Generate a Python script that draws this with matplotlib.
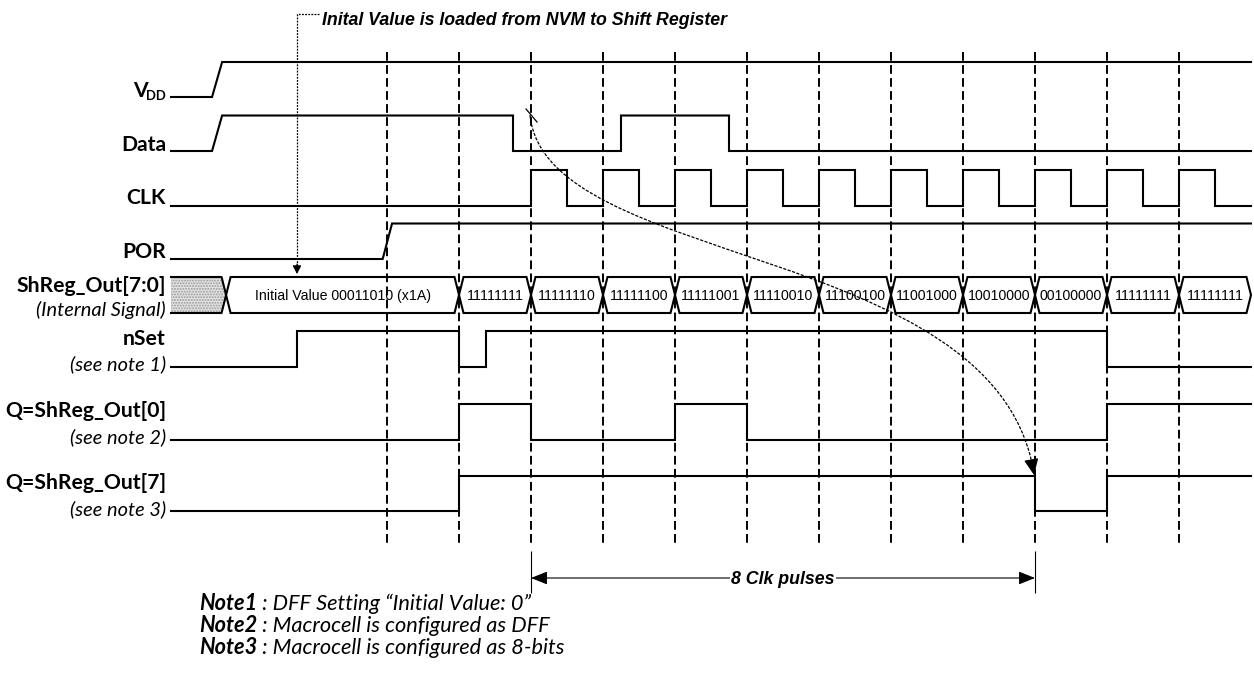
import matplotlib
matplotlib.use("Agg")
import matplotlib.pyplot as plt
from matplotlib.path import Path
from matplotlib.patches import Polygon, PathPatch, FancyArrowPatch

# ------------------------------------------------------------------ data
# time axis: 1 unit = one clock period, t = 0 is the first dashed marker
marker_times = [0, 1, 2, 3, 4, 5, 6, 7, 8, 9, 10, 11]
t_start, t_end = -3.0, 12.0

vdd_t = [-3.0, -2.43, -2.29, 12.0]
vdd_v = [0, 0, 1, 1]
data_t = [-3.0, -2.43, -2.29, 1.75, 1.75, 3.25, 3.25, 4.75, 4.75, 12.0]
data_v = [0, 0, 1, 1, 0, 0, 1, 1, 0, 0]
clk_edges = [2, 2.5, 3, 3.5, 4, 4.5, 5, 5.5, 6, 6.5, 7, 7.5, 8, 8.5, 9, 9.5,
             10, 10.5, 11, 11.5]
por_t = [-3.0, -0.06, 0.07, 12.0]
por_v = [0, 0, 1, 1]
nset_edges = [-1.25, 1.0, 1.375, 10.0]
q0_edges = [1, 2, 4, 5, 10]
q7_edges = [1, 9, 10]

bus_unknown = [-3.0, -2.235]
bus_bounds = [-2.235, 1, 2, 3, 4, 5, 6, 7, 8, 9, 10, 11, 12.0]
bus_values = ["Initial Value 00011010 (x1A)", "11111111", "11111110",
              "11111100", "11111001", "11110010", "11100100", "11001000",
              "10010000", "00100000", "11111111", "11111111"]

title_text = "Inital Value is loaded from NVM to Shift Register"
nvm_load_t = -1.25
span_text = "8 Clk pulses"
span_t = [2, 9]
notes_head = ["Note1", "Note2", "Note3"]
notes_body = [" : DFF Setting \u201cInitial Value: 0\u201d",
              " : Macrocell is configured as DFF",
              " : Macrocell is configured as 8-bits"]

# ------------------------------------------------------------------ layout
T0_PX, PITCH = 387.0, 72.0


def px2t(x):
    return (x - T0_PX) / PITCH


LW = 1.5
fig = plt.figure(figsize=(12.54, 6.77), dpi=100)
ax = fig.add_axes([0, 0, 1, 1])
ax.set_xlim(px2t(0), px2t(1254))
ax.set_ylim(677, 0)
ax.axis("off")


def step_xy(edges, init=0):
    ts, vs, lvl = [t_start], [init], init
    for e in edges:
        ts += [e, e]
        vs += [lvl, 1 - lvl]
        lvl = 1 - lvl
    ts.append(t_end)
    vs.append(lvl)
    return ts, vs


def draw_wave(ts, vs, low, high):
    ys = [low - v * (low - high) for v in vs]
    ax.plot(ts, ys, color="black", lw=LW, solid_joinstyle="miter", zorder=2)


draw_wave(vdd_t, vdd_v, 97, 62)
draw_wave(data_t, data_v, 151, 115.5)
draw_wave(*step_xy(clk_edges), 205.5, 170)
draw_wave(por_t, por_v, 259, 223.5)
draw_wave(*step_xy(nset_edges), 367, 331)
draw_wave(*step_xy(q0_edges), 439.5, 403.5)
draw_wave(*step_xy(q7_edges), 511, 476)

# bus
BT, BM, BB = 277, 295, 313
h = 4.5 / PITCH
ua, ub = bus_unknown
hatch = Polygon([(ua, BT), (ub - h, BT), (ub, BM), (ub - h, BB), (ua, BB)],
                closed=True, facecolor="#e4e4e4", edgecolor="#9a9a9a",
                hatch="......", lw=0, zorder=1)
ax.add_patch(hatch)
ax.plot([ua, ub - h, ub, ub - h, ua], [BT, BT, BM, BB, BB], color="black",
        lw=LW, zorder=2)

bus_texts = []
for a, b, val in zip(bus_bounds[:-1], bus_bounds[1:], bus_values):
    ax.add_patch(Polygon([(a, BM), (a + h, BT), (b - h, BT), (b, BM),
                          (b - h, BB), (a + h, BB)], closed=True, fill=False,
                         edgecolor="black", lw=LW, zorder=2))
    bus_texts.append(ax.text((a + b) / 2, 300, val, ha="center",
                             va="baseline", family="Liberation Sans",
                             fontsize=10, zorder=2))

# dashed markers
ax.vlines(marker_times, 52, 547, colors="black", lw=1.4,
          linestyles=[(0, (4.5, 2.2))], zorder=3)

# labels
LX = px2t(166)
lab_kw = dict(ha="right", va="baseline", family="Lato", fontweight="bold",
              fontsize=14)
sub_kw = dict(ha="right", va="baseline", family="Lato", style="italic",
              fontsize=13)
lv = ax.text(px2t(147.5), 97, "V", **lab_kw)
ldd = ax.text(LX, 100, "DD", ha="right", va="baseline", family="Lato",
              fontweight="bold", fontsize=9)
labels = [lv]
for txt, y in [("Data", 151), ("CLK", 204), ("POR", 258),
               ("ShReg_Out[7:0]", 292), ("nSet", 345),
               ("Q=ShReg_Out[0]", 417), ("Q=ShReg_Out[7]", 489)]:
    labels.append(ax.text(LX, y, txt, **lab_kw))
subs = []
for txt, y in [("(Internal Signal)", 316), ("(see note 1)", 370),
               ("(see note 2)", 443), ("(see note 3)", 515)]:
    subs.append(ax.text(LX, y, txt, **sub_kw))

# title + dotted pointer
title = ax.text(px2t(322), 25, title_text, ha="left", va="baseline",
                family="Liberation Sans", fontweight="bold", style="italic",
                fontsize=12)
ax.plot([px2t(319), nvm_load_t, nvm_load_t], [14, 14, 266], color="black",
        lw=0.9, linestyle=(0, (1.5, 1.0)), zorder=3)
ax.add_patch(FancyArrowPatch((nvm_load_t, 264), (nvm_load_t, 274),
                             arrowstyle="-|>,head_length=5,head_width=2.6",
                             mutation_scale=1, color="black", lw=0.8,
                             shrinkA=0, shrinkB=0, zorder=4))

# curved arrow (shift propagation)
P0 = (px2t(530), 115)
P1 = (px2t(545), 268)
P2 = (px2t(990), 242)
P3 = (px2t(1033), 468)
curve = Path([P0, P1, P2, P3], [Path.MOVETO, Path.CURVE4, Path.CURVE4,
                                Path.CURVE4])
ax.add_patch(PathPatch(curve, fill=False, edgecolor="black", lw=0.9,
                       linestyle=(0, (2.5, 1.2)), zorder=4))
ax.plot([px2t(526), px2t(537)], [109, 122], color="black", lw=0.9, zorder=4)
ax.add_patch(FancyArrowPatch((px2t(1031.5), 461), (px2t(1034), 475),
                             arrowstyle="-|>,head_length=10,head_width=4.5",
                             mutation_scale=1, color="black", lw=0.8,
                             shrinkA=0, shrinkB=0, zorder=4))

# 8 clk pulses span
ax.vlines(span_t, 551, 593, colors="black", lw=0.8, zorder=3)
ax.add_patch(FancyArrowPatch((span_t[0], 578), (span_t[1], 578),
                             arrowstyle="<|-|>,head_length=10,head_width=4",
                             mutation_scale=1, color="black", lw=0.8,
                             shrinkA=0, shrinkB=0, zorder=3))
span = ax.text(sum(span_t) / 2, 578, span_text, ha="center",
               va="center_baseline", family="Liberation Sans",
               fontweight="bold", style="italic", fontsize=12, zorder=5,
               bbox=dict(facecolor="white", edgecolor="none", pad=1.0))

# notes
heads, bodies = [], []
for hd, bd, y in zip(notes_head, notes_body, [609.5, 632, 654]):
    t1 = ax.text(px2t(199), y, hd, ha="left", va="baseline", family="Lato",
                 fontweight="bold", style="italic", fontsize=13)
    t2 = ax.annotate(bd, xy=(1, 0), xycoords=t1, ha="left", va="bottom",
                     family="Lato", style="italic", fontsize=13)
    heads.append(t1)
    bodies.append(t2)

# ------------------------------------------------------------------ fit text sizes to reference widths
renderer = fig.canvas.get_renderer()


def fit(artists, ref, target_px):
    ref.set_fontsize(10)
    w = ref.get_window_extent(renderer).width
    s = 10 * target_px / w
    for a in artists:
        a.set_fontsize(s)
    return s


s_lab = fit(labels, labels[4], 149)
ldd.set_fontsize(s_lab * 0.62)
fit(subs, subs[0], 130)
fit(bus_texts, bus_texts[0], 175)
fit([title], title, 406)
fit([span], span, 104)
fit(heads + bodies, bodies[2], 364 - 0)
# adjust: whole Note3 line should be ~364 px wide
wtot = heads[2].get_window_extent(renderer).width + \
    bodies[2].get_window_extent(renderer).width
sc = 364.0 / wtot
for a in heads + bodies:
    a.set_fontsize(a.get_fontsize() * sc)

fig.savefig("out.png", dpi=100, facecolor="white")
